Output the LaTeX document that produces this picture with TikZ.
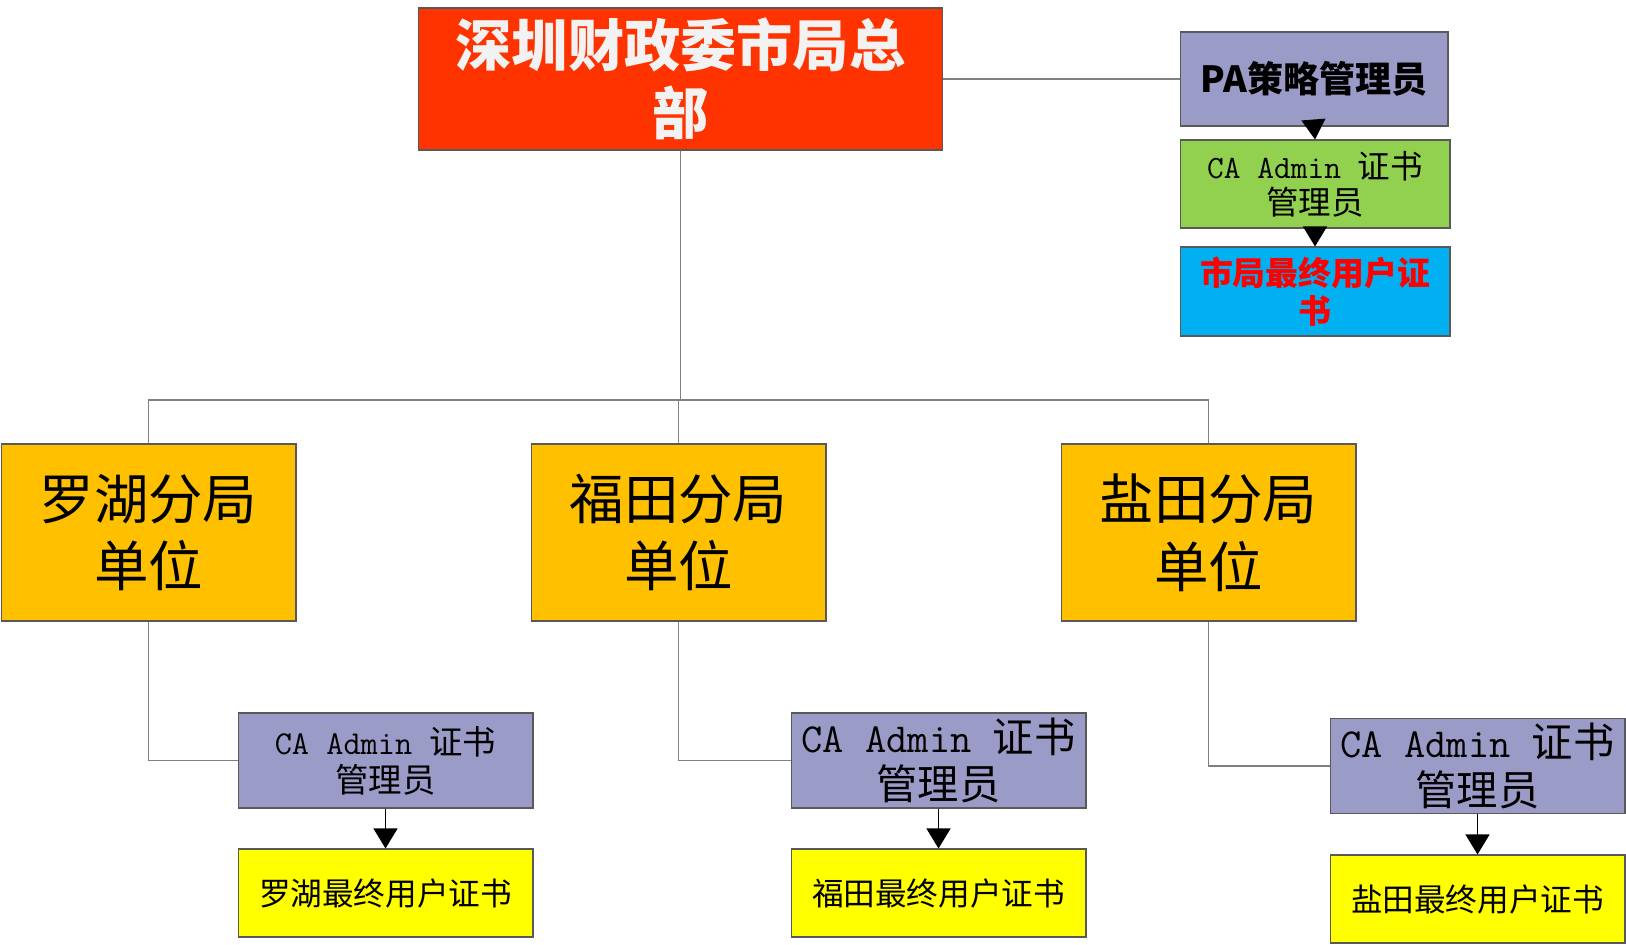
\documentclass[tikz,border=0pt]{standalone}
\usepackage{fontspec}
\newfontfamily\cjk{Noto Sans CJK SC}
\usetikzlibrary{arrows.meta}
\definecolor{hqred}{HTML}{FF3300}
\definecolor{palav}{HTML}{9B9BC8}
\definecolor{cagreen}{HTML}{92D050}
\definecolor{citybl}{HTML}{00B0F0}
\definecolor{branchor}{HTML}{FFC000}
\definecolor{useryl}{HTML}{FFFF00}
\newcommand{\fs}[2]{\fontsize{#1}{#2}\selectfont}

\begin{document}
\begin{tikzpicture}[x=0.02cm, y=-0.02cm]
	\tikzstyle{box}=[rectangle, draw=black!65, line width=0.6pt, inner sep=0pt, align=center, font=\cjk]
	\tikzstyle{branch}=[box, fill=branchor, minimum width=5.9cm, minimum height=3.54cm, font=\cjk\fs{31}{38.5}]
	\tikzstyle{caadmin}=[box, fill=palav, minimum width=5.9cm, minimum height=1.9cm]
	\tikzstyle{enduser}=[box, fill=useryl, minimum width=5.9cm, minimum height=1.76cm, font=\cjk\fs{18}{22}]
	\tikzstyle{link}=[draw=black!50, line width=0.8pt]
	\tikzstyle{arr}=[draw=black, line width=0.6pt, -{Triangle[width=0.48cm,length=0.4cm]}]
	\useasboundingbox (0,0) rectangle (1626,945);

	% Draw headquarters and its chain
	\node[box, fill=hqred, minimum width=10.5cm, minimum height=2.84cm, text=white!95!black, font=\cjk\bfseries\fs{32}{38.5}] (hq) at (680.5,79) {深圳财政委市局总\\部};
	\node[box, fill=palav, minimum width=5.36cm, minimum height=1.88cm, font=\cjk\bfseries\fs{20.5}{22}] (pa) at (1314,79) {PA策略管理员};
	\node[box, fill=cagreen, minimum width=5.4cm, minimum height=1.76cm, font=\cjk\fs{18.5}{20.5}] (caroot) at (1315,184) {{\ttfamily CA Admin~}证书\\管理员};
	\node[box, fill=citybl, minimum width=5.4cm, minimum height=1.78cm, text=red, font=\cjk\bfseries\fs{18.7}{21.6}] (cityuser) at (1315,291.5) {市局最终用户证\\书};

	% Draw branch offices
	\node[branch] (luohu) at (148.5,532.5) {罗湖分局\\单位};
	\node[branch] (futian) at (678.5,532.5) {福田分局\\单位};
	\node[branch] (yantian) at (1208.5,532.5) {盐田分局\\单位};

	% Draw branch admins and end users
	\node[caadmin, font=\cjk\fs{19}{21.6}] (caluohu) at (385.5,760.5) {{\ttfamily CA Admin~}证书\\管理员};
	\node[caadmin, font=\cjk\fs{23.5}{27}] (cafutian) at (938.5,760.5) {{\ttfamily CA Admin~}证书\\管理员};
	\node[caadmin, font=\cjk\fs{23.5}{27}] (cayantian) at (1477.5,766) {{\ttfamily CA Admin~}证书\\管理员};
	\node[enduser] (userluohu) at (385.5,893) {罗湖最终用户证书};
	\node[enduser] (userfutian) at (938.5,893) {福田最终用户证书};
	\node[enduser] (useryantian) at (1477.5,899) {盐田最终用户证书};

	% Draw connectors
	\coordinate (bus) at (680.5,400);
	\draw[link] (hq.east) -- (pa.west);
	\draw[link] (hq.south) -- (bus);
	\draw[link] (luohu.north) |- (bus) -| (yantian.north);
	\draw[link] (futian.north) -- (futian.north |- bus);
	\draw[link] (luohu.south) |- (caluohu.west);
	\draw[link] (futian.south) |- (cafutian.west);
	\draw[link] (yantian.south) |- (cayantian.west);

	% Draw arrows
	\draw[arr] (pa.south) -- (caroot.north);
	\draw[arr] (caroot.south) -- (cityuser.north);
	\draw[arr] (caluohu.south) -- (userluohu.north);
	\draw[arr] (cafutian.south) -- (userfutian.north);
	\draw[arr] (cayantian.south) -- (useryantian.north);
\end{tikzpicture}
\end{document}
